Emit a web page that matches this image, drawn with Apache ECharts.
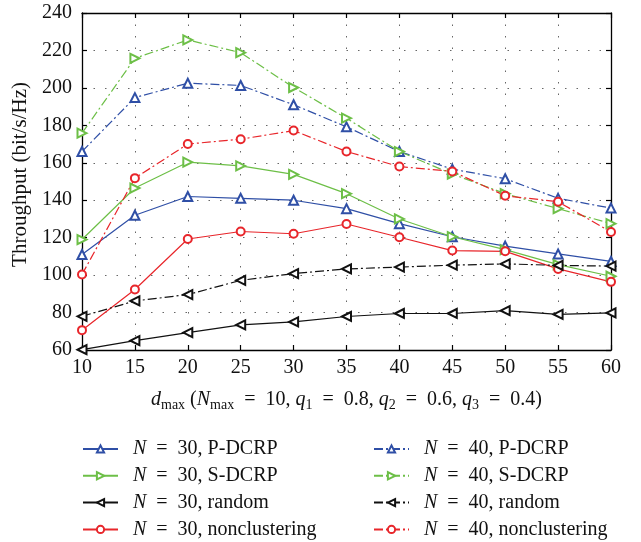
<!DOCTYPE html>
<html>
<head>
<meta charset="utf-8">
<script src="https://cdn.jsdelivr.net/npm/echarts@6/dist/echarts.min.js"></script>
<style>
  html, body { margin: 0; padding: 0; background: #fff; }
  #chart { width: 641px; height: 542px; }
</style>
</head>
<body>
<div id="chart"></div>
<script>
// d_max values on the x axis
const dmax = [10, 15, 20, 25, 30, 35, 40, 45, 50, 55, 60];

// Throughput (bit/s/Hz), N = 30
const n30PDCRP = [111, 132, 142, 141, 140, 135.5, 127.5, 120.5, 115.5, 111.3, 107.3];
const n30SDCRP = [119, 146.5, 160.3, 158.3, 153.8, 143.5, 130, 120.5, 113.6, 105.6, 99.4];
const n30Random = [60.2, 65, 69.3, 73.4, 75, 77.9, 79.5, 79.5, 81, 79, 79.8];
const n30Noncl = [70.6, 92.3, 119.3, 123.3, 122.1, 127.3, 120.2, 113.1, 112.7, 103.3, 96.4];

// Throughput (bit/s/Hz), N = 40
const n40PDCRP = [166, 194.8, 202.5, 201.3, 191, 179.2, 166, 156.6, 151.5, 141, 135.8];
const n40SDCRP = [175.8, 215.8, 225.6, 218.8, 200.2, 183.8, 166, 154, 143.5, 135.5, 127.5];
const n40Random = [78, 86.2, 89.6, 97.2, 100.8, 103.3, 104.3, 105.3, 106, 105.2, 104.8];
const n40Noncl = [100.3, 151.8, 170, 172.6, 177.2, 166, 158, 155.4, 142.4, 139.2, 123];

const BLUE = '#2f4fa6';
const GREEN = '#6dbf47';
const RED = '#e8262b';
const BLACK = '#111111';
const FONT = '"Liberation Serif", "DejaVu Serif", serif';
const DASHDOT = [9, 3, 2, 3];

function pairs(vals) { return dmax.map((x, i) => [x, vals[i]]); }

function mk(name, vals, color, dashed, shape) {
  let symbol = 'emptyTriangle', rotate = 0, size = 9;
  if (shape === 'right') rotate = -90;
  if (shape === 'left') rotate = 90;
  if (shape === 'circle') { symbol = 'emptyCircle'; size = 8; }
  return {
    name: name,
    type: 'line',
    data: pairs(vals),
    symbol: symbol,
    symbolSize: size,
    symbolRotate: rotate,
    color: color,
    lineStyle: { color: color, width: 1.2, type: dashed ? DASHDOT : 'solid' },
    itemStyle: { color: color, borderColor: color, borderWidth: 1.2 },
    animation: false
  };
}

const series = [
  mk('N = 30, P-DCRP', n30PDCRP, BLUE, false, 'up'),
  mk('N = 30, S-DCRP', n30SDCRP, GREEN, false, 'right'),
  mk('N = 30, random', n30Random, BLACK, false, 'left'),
  mk('N = 30, nonclustering', n30Noncl, RED, false, 'circle'),
  mk('N = 40, P-DCRP', n40PDCRP, BLUE, true, 'up'),
  mk('N = 40, S-DCRP', n40SDCRP, GREEN, true, 'right'),
  mk('N = 40, random', n40Random, BLACK, true, 'left'),
  mk('N = 40, nonclustering', n40Noncl, RED, true, 'circle')
];

const legendText = {
  fontFamily: FONT, fontSize: 20, color: '#111', lineHeight: 22,
  padding: [0, 0, 0, 10],
  rich: {
    i: { fontFamily: FONT, fontSize: 20, fontStyle: 'italic', color: '#111', lineHeight: 22 },
    r: { fontFamily: FONT, fontSize: 20, color: '#111', lineHeight: 22 }
  }
};
// italic N, with wider math spacing round the equals sign
function legendFmt(name) { return '{i|N}{r|' + name.slice(1).replace(' = ', '  =  ') + '}'; }

const subStyle = { fontFamily: FONT, fontSize: 14, color: '#111', lineHeight: 15, verticalAlign: 'bottom' };
const itStyle = { fontFamily: FONT, fontSize: 20, fontStyle: 'italic', color: '#111', lineHeight: 24 };
const rmStyle = { fontFamily: FONT, fontSize: 20, color: '#111', lineHeight: 24 };

const frameAxisLine = { show: true, onZero: false, lineStyle: { color: '#000', width: 1.3 } };
const tickIn = { show: true, inside: true, length: 5, lineStyle: { color: '#000', width: 1.2 } };
const EQ = '  =  ';

const chart = echarts.init(document.getElementById('chart'), null, { renderer: 'canvas' });
chart.setOption({
  backgroundColor: '#fff',
  animation: false,
  grid: { left: 82, right: 30, top: 13, bottom: 192 },
  xAxis: [{
    type: 'value', min: 10, max: 60, interval: 5,
    axisLine: frameAxisLine, axisTick: tickIn,
    axisLabel: { fontFamily: FONT, fontSize: 20, color: '#111', margin: 8 },
    splitLine: { show: true, lineStyle: { color: '#666', width: 1, type: [1.5, 10] } },
    name: '{it|d}{sub|max}{rm| (}{it|N}{sub|max}{rm|' + EQ + '10, }{it|q}{sub|1}{rm|' + EQ + '0.8, }{it|q}{sub|2}{rm|' + EQ + '0.6, }{it|q}{sub|3}{rm|' + EQ + '0.4)}',
    nameLocation: 'middle', nameGap: 38,
    nameTextStyle: { fontFamily: FONT, fontSize: 20, color: '#111', rich: { it: itStyle, rm: rmStyle, sub: subStyle } }
  }, {
    type: 'value', min: 10, max: 60, interval: 5, position: 'top',
    axisLine: frameAxisLine, axisTick: tickIn,
    axisLabel: { show: false }, splitLine: { show: false }
  }],
  yAxis: [{
    type: 'value', min: 60, max: 240, interval: 20,
    axisLine: frameAxisLine, axisTick: tickIn,
    axisLabel: { fontFamily: FONT, fontSize: 20, color: '#111', margin: 10 },
    splitLine: { show: true, lineStyle: { color: '#666', width: 1, type: [1.5, 10] } },
    name: 'Throughput (bit/s/Hz)', nameLocation: 'middle', nameGap: 51,
    nameTextStyle: { fontFamily: FONT, fontSize: 21, color: '#111', padding: [0, 0, 0, 14] }
  }, {
    type: 'value', min: 60, max: 240, interval: 20, position: 'right',
    axisLine: frameAxisLine, axisTick: tickIn,
    axisLabel: { show: false }, splitLine: { show: false }
  }],
  legend: [{
    data: series.slice(0, 4).map(s => s.name),
    orient: 'vertical', left: 82, top: 438, height: 104, padding: 0,
    itemWidth: 35, itemHeight: 9, itemGap: 4.8,
    textStyle: legendText, formatter: legendFmt
  }, {
    data: series.slice(4).map(s => s.name),
    orient: 'vertical', left: 373, top: 438, height: 104, padding: 0,
    itemWidth: 35, itemHeight: 9, itemGap: 4.8,
    textStyle: legendText, formatter: legendFmt
  }],
  series: series
});
</script>
</body>
</html>
